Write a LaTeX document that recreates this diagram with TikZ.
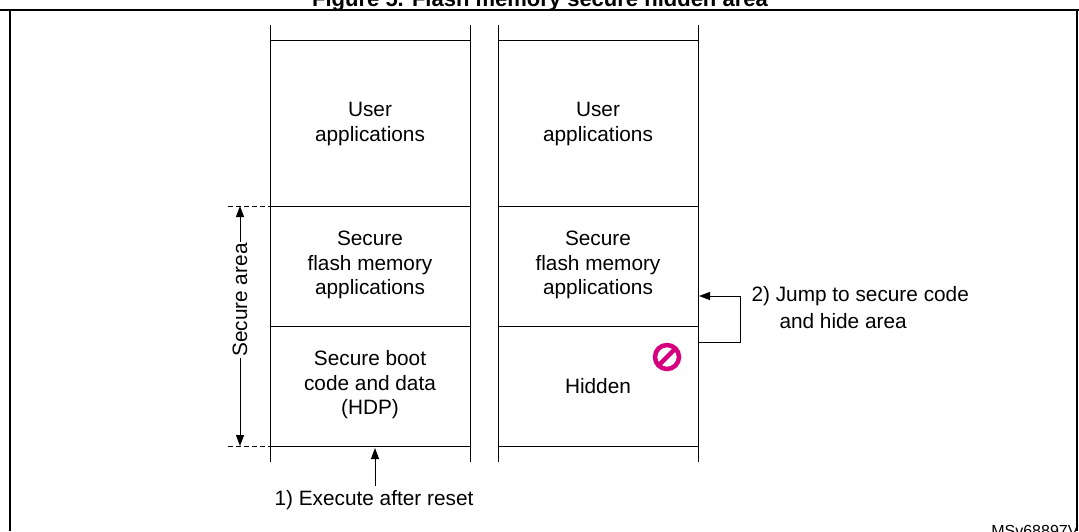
\documentclass[tikz,border=0pt]{standalone}
\usepackage{fontspec}
\setmainfont{Liberation Sans}
\usetikzlibrary{arrows.meta}
\definecolor{stmag}{RGB}{214,0,126}
\begin{document}
\begin{tikzpicture}[x=1pt,y=-1pt,
  txt/.style={align=center,font=\fontsize{20.8}{24.5}\selectfont},
  ln/.style={line width=1pt},
  arr/.style={ln,-{Triangle[length=11pt,width=8pt]}}]
\useasboundingbox (0,0) rectangle (1079,531);
\begin{scope}
\clip (0,0) rectangle (1079,9);
\node[font=\bfseries\fontsize{22}{24}\selectfont,anchor=base] (title) at (540,6) {Figure 5. Flash memory secure hidden area};
\end{scope}
\draw[line width=2.5pt] (0,10) -- (1079,10);
\draw[line width=2pt] (10,10) -- (10,531);
\draw[line width=2pt] (1077,10) -- (1077,531);
% columns
\foreach \x in {270,470,498,698} \draw[ln] (\x,25) -- (\x,462);
\foreach \y in {40,206,326,446} {\draw[ln] (270,\y) -- (470,\y); \draw[ln] (498,\y) -- (698,\y);}
\node[txt] (u1) at (370,124) {User\\applications};
\node[txt] (s1) at (370,265) {Secure\\flash memory\\applications};
\node[txt] (b1) at (370,385) {Secure boot\\code and data\\(HDP)};
\node[txt] (u2) at (598,124) {User\\applications};
\node[txt] (s2) at (598,265) {Secure\\flash memory\\applications};
\node[txt] (h2) at (598,386) {Hidden};
% secure area
\coordinate (dt) at (240,206); \coordinate (db) at (240,446);
\draw[ln,dash pattern=on 5pt off 3pt] (228,206) -- (270,206);
\draw[ln,dash pattern=on 5pt off 3pt] (228,446) -- (270,446);
\draw[arr] (240,300) -- (dt);
\draw[arr] (240,300) -- (db);
\node[txt,rotate=90,fill=white,inner sep=1pt] (sa) at (240,300) {Secure area};
% execute
\coordinate (e0) at (375,486); \coordinate (e1) at (375,448);
\draw[arr] (e0) -- (e1);
\node[txt,anchor=west] (ex) at (271,500) {1) Execute after reset};
% jump
\coordinate (j0) at (698,342); \coordinate (j1) at (740,342); \coordinate (j2) at (740,296); \coordinate (j3) at (699,296);
\draw[arr] (j0) -- (j1) -- (j2) -- (j3);
\node[txt,anchor=west] (jt1) at (748,296) {2) Jump to secure code};
\node[txt,anchor=west] (jt2) at (776,321) {and hide area};
% prohibited
\draw[stmag,line width=4.5pt] (667,357) circle (12);
\draw[stmag,line width=4.5pt] (659,365) -- (675,349);
\node[font=\fontsize{16}{18}\selectfont,anchor=base east] (ms) at (1082,536) {MSv68897V};
\end{tikzpicture}
\end{document}
